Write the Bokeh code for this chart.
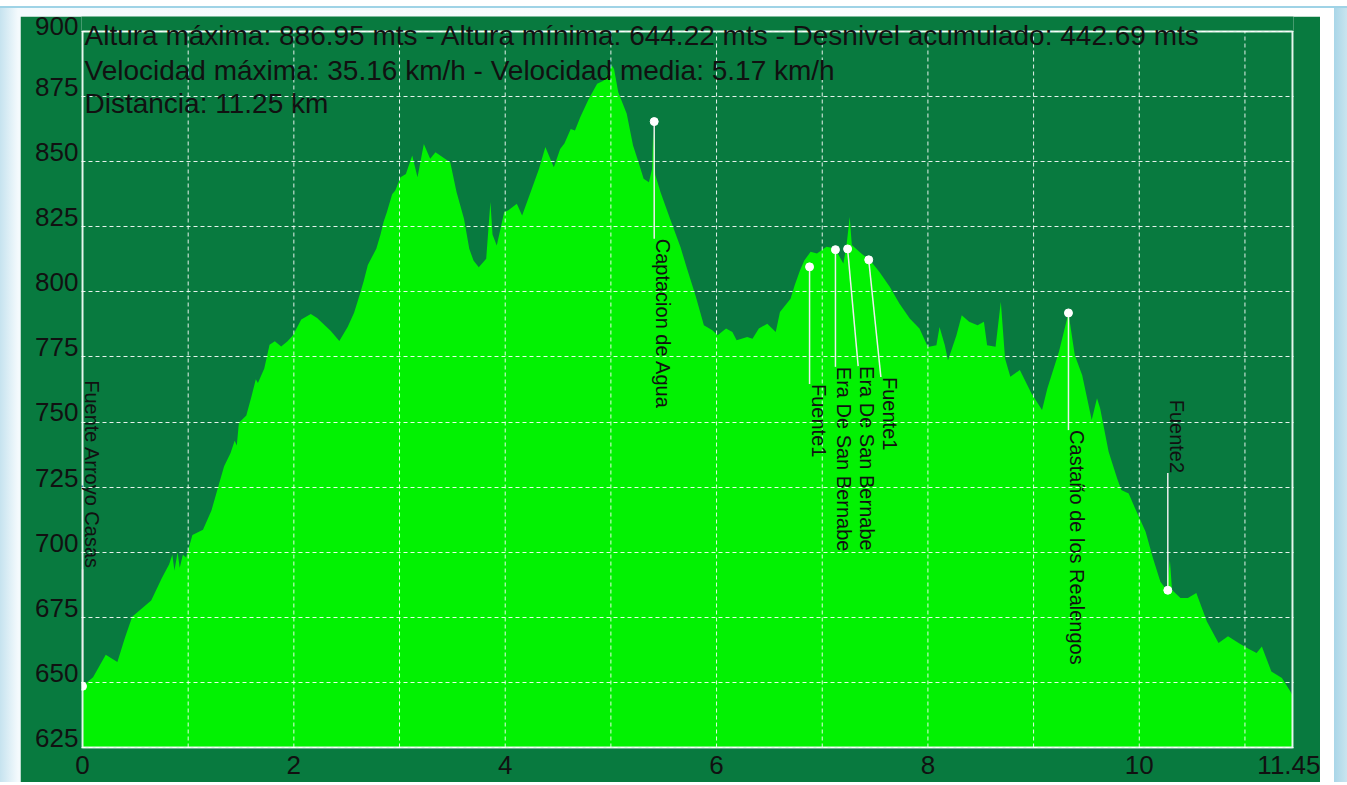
import math
from bokeh.plotting import figure
from bokeh.models import ColumnDataSource, FixedTicker, Range1d, Label, LinearAxis
from bokeh.layouts import column
from bokeh.core.properties import value
from bokeh.embed import file_html
from bokeh.resources import INLINE

# ---- profile data (distance km, elevation m) ----
dist_km = [0.00, 0.10, 0.22, 0.33, 0.40, 0.47, 0.55, 0.65, 0.75, 0.82, 0.85, 0.87, 0.90, 0.92, 0.95, 0.98,
           1.04, 1.14, 1.22, 1.28, 1.34, 1.40, 1.44, 1.46, 1.48, 1.55, 1.60, 1.64, 1.66, 1.72, 1.77, 1.82,
           1.88, 1.94, 1.99, 2.07, 2.16, 2.22, 2.27, 2.35, 2.43, 2.51, 2.57, 2.62, 2.66, 2.70, 2.78, 2.82,
           2.85, 2.88, 2.93, 2.96, 3.01, 3.06, 3.12, 3.17, 3.23, 3.29, 3.34, 3.43, 3.48, 3.54, 3.61, 3.66,
           3.70, 3.75, 3.82, 3.86, 3.88, 3.92, 3.99, 4.03, 4.11, 4.16, 4.24, 4.32, 4.38, 4.46, 4.52, 4.56,
           4.62, 4.66, 4.71, 4.79, 4.87, 4.93, 4.98, 5.01, 5.03, 5.07, 5.15, 5.21, 5.26, 5.31, 5.36, 5.39,
           5.40, 5.42, 5.47, 5.56, 5.66, 5.72, 5.80, 5.88, 5.96, 6.01, 6.09, 6.15, 6.19, 6.29, 6.34, 6.40,
           6.48, 6.56, 6.60, 6.70, 6.74, 6.79, 6.83, 6.89, 6.95, 7.04, 7.12, 7.20, 7.23, 7.26, 7.28, 7.37,
           7.45, 7.54, 7.64, 7.73, 7.83, 7.92, 8.00, 8.08, 8.11, 8.16, 8.19, 8.27, 8.32, 8.39, 8.47, 8.53,
           8.56, 8.64, 8.69, 8.73, 8.78, 8.87, 8.98, 9.08, 9.13, 9.24, 9.33, 9.39, 9.46, 9.52, 9.55, 9.60,
           9.63, 9.71, 9.79, 9.83, 9.90, 9.96, 10.06, 10.13, 10.20, 10.26, 10.29, 10.31, 10.39, 10.46, 10.54,
           10.64, 10.75, 10.84, 10.94, 11.02, 11.11, 11.16, 11.25, 11.35, 11.43, 11.45]
elev_m = [648.5, 652.0, 660.6, 657.8, 667.0, 675.2, 678.0, 681.5, 690.0, 695.4, 699.0, 693.0, 700.0, 694.0, 699.0, 698.0,
          706.6, 708.6, 716.0, 724.6, 733.0, 738.0, 742.8, 741.0, 749.7, 752.5, 760.0, 766.4, 765.0, 770.6, 779.7, 781.0,
          779.0, 781.0, 783.2, 789.4, 791.5, 790.0, 788.0, 785.0, 781.1, 786.6, 792.0, 798.5, 804.0, 810.3, 816.6, 822.0,
          827.0, 830.6, 837.5, 838.9, 844.0, 845.3, 852.4, 844.0, 856.8, 851.1, 853.6, 851.1, 849.8, 838.3, 828.1, 816.6,
          812.0, 809.5, 812.7, 834.5, 822.0, 817.8, 830.6, 831.3, 833.8, 829.3, 838.3, 847.3, 855.6, 847.9, 854.9, 857.0,
          862.6, 862.0, 867.1, 874.1, 879.9, 881.1, 884.3, 886.95, 885.6, 876.7, 868.4, 856.2, 850.0, 843.4, 842.1, 847.3,
          862.0, 845.0, 838.3, 828.1, 817.0, 809.0, 798.7, 787.2, 785.3, 783.3, 785.9, 784.6, 781.4, 782.7, 782.0, 785.9,
          787.8, 784.6, 792.3, 797.4, 802.6, 808.3, 812.0, 815.4, 814.7, 817.3, 816.7, 810.9, 818.0, 828.8, 818.0, 814.7,
          812.2, 807.7, 801.9, 795.5, 789.7, 785.9, 778.8, 779.5, 786.5, 779.5, 773.7, 783.3, 791.0, 788.5, 787.2, 788.5,
          779.5, 778.9, 796.2, 774.4, 767.4, 770.0, 761.0, 754.6, 762.9, 777.0, 791.9, 775.7, 768.0, 756.5, 750.8, 759.1,
          755.2, 738.6, 728.4, 723.9, 722.6, 716.9, 707.9, 697.7, 688.7, 685.5, 697.0, 685.5, 682.4, 682.4, 684.3,
          673.4, 665.1, 667.7, 665.1, 663.2, 661.3, 663.8, 654.2, 651.7, 646.5, 645.0]

# ---- waypoints ----
wp_names = ["Fuente Arroyo Casas", "Captacion de Agua", "Fuente1", "Era De San Bernabe",
            "Era De San Bernabe", "Fuente1", "Castaño de los Realengos", "Fuente2"]
wp_km = [0.0, 5.41, 6.88, 7.125, 7.24, 7.44, 9.33, 10.27]
wp_elev = [648.5, 865.4, 809.6, 816.2, 816.5, 812.3, 791.9, 685.4]

# ---- texts / ticks ----
info_lines = ["Altura máxima: 886.95 mts - Altura mínima: 644.22 mts - Desnivel acumulado: 442.69 mts",
              "Velocidad máxima: 35.16 km/h - Velocidad media: 5.17 km/h",
              "Distancia: 11.25 km"]
x_ticks = [0, 2, 4, 6, 8, 10, 11.45]
x_tick_labels = ["0", "2", "4", "6", "8", "10", "11.45"]
x_grid = list(range(1, 12))
y_ticks = list(range(625, 901, 25))
y_min, y_max = 625, 900
x_max = 11.45

BG = "#087a3f"
FILL = "#02f202"
BORDER = "#e6f7ee"
FONT = "Liberation Sans"

# ---- geometry (pixels) ----
FIG_W, FIG_H = 1300, 766
PLOT_W, PLOT_H = 1210, 716      # drawn plot box
PAD = 1                          # frame padding around the box so its border is not cut
TOP_PAD = 15                     # room inside the frame above the box (for the info text)
ux = x_max / PLOT_W
uy = (y_max - y_min) / PLOT_H
x_rng = Range1d(-PAD * ux, x_max + PAD * ux)
y_rng = Range1d(y_min - PAD * uy, y_max + TOP_PAD * uy)
FRAME_H = PLOT_H + PAD + TOP_PAD

p = figure(width=FIG_W, height=FIG_H, output_backend="svg", toolbar_location=None,
           x_range=x_rng, y_range=y_rng,
           min_border_left=62 - PAD, min_border_right=28 - PAD, min_border_top=0,
           min_border_bottom=FIG_H - FRAME_H,
           background_fill_color=BG, border_fill_color=BG)
p.margin = (16, 27, 0, 20)
p.outline_line_color = None

# elevation profile
p.varea(x=dist_km, y1=[y_min] * len(dist_km), y2=elev_m, fill_color=FILL)

# grid: horizontal lines from the grid model, vertical ones limited to the plot box
p.xgrid.visible = False
p.ygrid.ticker = FixedTicker(ticks=y_ticks)
p.ygrid.grid_line_color = "white"
p.ygrid.grid_line_dash = "4 3"
p.ygrid.grid_line_width = 1
p.ygrid.grid_line_alpha = 0.9
p.ygrid.level = "overlay"
p.segment(x0=x_grid, y0=[y_min] * len(x_grid), x1=x_grid, y1=[y_max] * len(x_grid),
          line_color="white", line_dash="4 3", line_width=1, line_alpha=0.9)

# plot box border
p.quad(left=[0], right=[x_max], bottom=[y_min], top=[y_max], fill_color=None,
       line_color=BORDER, line_width=2)

# axes: x below; y labels sit just above their grid line (shifted label axis)
label_shift = 9.6 * uy
p.extra_y_ranges = {"ylab": Range1d(y_rng.start - label_shift, y_rng.end - label_shift)}
p.yaxis.visible = False
yax = LinearAxis(y_range_name="ylab", ticker=FixedTicker(ticks=y_ticks))
p.add_layout(yax, "left")

p.xaxis.ticker = FixedTicker(ticks=x_ticks)
p.xaxis.major_label_overrides = {t: l for t, l in zip(x_ticks, x_tick_labels)}
for ax in (p.xaxis[0], yax):
    ax.axis_line_color = None
    ax.major_tick_line_color = None
    ax.minor_tick_line_color = None
    ax.major_tick_out = 0
    ax.major_tick_in = 0
    ax.minor_tick_out = 0
    ax.major_label_text_font = FONT
    ax.major_label_text_font_size = "26px"
    ax.major_label_text_color = "#111111"
p.xaxis.major_label_standoff = 7
yax.major_label_standoff = 2 + PAD

# waypoints: labels below unless the point is low, then above
offset = 45.0
min_gap = 0.215
label_x = []
prev = -10.0
for xk in wp_km:
    lx = max(xk, prev + min_gap)
    label_x.append(lx)
    prev = lx
above = [e < 700 for e in wp_elev]
label_y = [e + offset if a else e - offset for e, a in zip(wp_elev, above)]

p.segment(x0=wp_km, y0=wp_elev, x1=label_x, y1=label_y, line_color="#eeeeee", line_width=1.5)
p.scatter(x=wp_km, y=wp_elev, size=8, fill_color="white", line_color="white")

below_src = ColumnDataSource(dict(
    x=[lx for lx, a in zip(label_x, above) if not a],
    y=[ly for ly, a in zip(label_y, above) if not a],
    t=[n for n, a in zip(wp_names, above) if not a]))
above_src = ColumnDataSource(dict(
    x=[lx for lx, a in zip(label_x, above) if a],
    y=[ly for ly, a in zip(label_y, above) if a],
    t=[n for n, a in zip(wp_names, above) if a]))
for src, align in ((below_src, "left"), (above_src, "right")):
    p.text(x="x", y="y", text="t", source=src, angle=-math.pi / 2, text_align=align,
           text_baseline="bottom", x_offset=-2, text_font=value(FONT), text_font_size="20px",
           text_color="#111111")

# info text at top-left of the plot box (screen units, baseline px below the box top)
offsets = [3.7, 38.7, 72.0]
for line, off in zip(info_lines, offsets):
    p.add_layout(Label(x=PAD + 2, y=FRAME_H - TOP_PAD - off, x_units="screen", y_units="screen",
                       text=line, text_font=FONT, text_font_size="28px", text_color="#111111",
                       text_baseline="alphabetic", text_align="left", level="overlay"))

bg = ("linear-gradient(to bottom, #ffffff 0px, #ffffff 6px, #9fd3e6 6px, #9fd3e6 8px, rgba(255,255,255,0) 8px), "
      "linear-gradient(to right, #c6e3ef 0px, #f4fafd 18px, #ffffff 1320px, #ffffff 1334px, #a9d6e8 1334px, #c9e4ef 1347px)")
layout = column(p, styles={"background": bg})

open("out.html", "w").write(file_html(layout, INLINE))
